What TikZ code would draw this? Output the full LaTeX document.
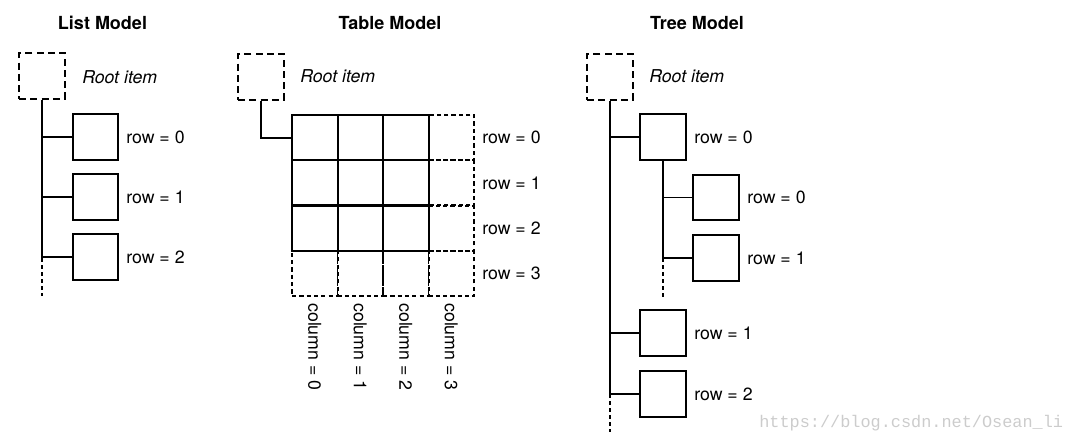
\documentclass[tikz,border=0pt]{standalone}
\usepackage{fontspec}
\setmainfont{TeX Gyre Heros}
\newfontfamily\markfont{Liberation Mono}
\tikzset{
    item/.style={draw, line width=1.4pt, minimum width=1.14cm, minimum height=1.14cm, inner sep=0pt},
    rootitem/.style={item, dash pattern=on 5pt off 3pt},
    cell/.style={draw, line width=1.4pt, minimum size=1.14cm, inner sep=0pt},
    emptycell/.style={cell, dash pattern=on 3pt off 2.2pt},
    label/.style={anchor=west, inner sep=0pt, font=\fontsize{12.6}{15}\selectfont},
    title/.style={font=\fontsize{12.8}{15}\selectfont\bfseries},
    link/.style={line width=1.4pt},
    more/.style={line width=1.4pt, dash pattern=on 2.5pt off 2.5pt}
}
\begin{document}
\begin{tikzpicture}[x=0.025cm, y=-0.025cm]
    \useasboundingbox (0, 0) rectangle (1070, 443);

    % list model
    \node[title] (LT) at (102.5, 23) {List Model};
    \node[rootitem] (LR) at (42, 76) {};
    \node[label] (LRL) at (82, 77) {\itshape Root item};
    \node[item] (L0) at (95.5, 137) {};
    \node[item] (L1) at (95.5, 197) {};
    \node[item] (L2) at (95.5, 257) {};
    \node[label] at (126, 137) {row = 0};
    \node[label] at (126, 197) {row = 1};
    \node[label] at (126, 257) {row = 2};
    \coordinate (LE) at (42, 258);
    \coordinate (LD) at (42, 296);
    \draw[link] (LR.south) -- (LE);
    \draw[more] (LE) -- (LD);
    \draw[link] (L0.west) -- (L0.west -| LE);
    \draw[link] (L1.west) -- (L1.west -| LE);
    \draw[link] (L2.west) -- (L2.west -| LE);

    % table model
    \node[title] (BT) at (390, 23) {Table Model};
    \node[rootitem] (BR) at (261, 77) {};
    \node[label] (BRL) at (300, 76) {\itshape Root item};
    \foreach \c in {0,...,3}
        \foreach \r in {0,...,3}
            \node[emptycell] (C\c\r) at (314.8+45.5*\c, 137.6+45.3*\r) {};
    \foreach \c in {0,...,2}
        \foreach \r in {0,...,2}
            \node[cell] (B\c\r) at (314.8+45.5*\c, 137.6+45.3*\r) {};
    \draw[link] (BR.south) |- (B00.west);
    \foreach \r in {0,...,3}
        \node[label] at (482, 137.6+45.3*\r) {row = \r};
    \foreach \c in {0,...,3}
        \node[label, rotate=-90] at (314.8+45.5*\c, 303) {column = \c};

    % tree model
    \node[title] (TT) at (697, 23) {Tree Model};
    \node[rootitem] (TR) at (610, 77) {};
    \node[label] (TRL) at (649, 76) {\itshape Root item};
    \node[item] (T0) at (663, 137) {};
    \node[item] (T00) at (716, 197.5) {};
    \node[item] (T01) at (716, 258) {};
    \node[item] (T1) at (663, 333) {};
    \node[item] (T2) at (663, 394) {};
    \node[label] at (694, 137) {row = 0};
    \node[label] at (747, 197.5) {row = 0};
    \node[label] at (747, 258) {row = 1};
    \node[label] at (694, 333) {row = 1};
    \node[label] at (694, 394) {row = 2};
    \coordinate (TE) at (610, 394);
    \coordinate (TD) at (610, 432);
    \coordinate (SE) at (663, 258);
    \coordinate (SD) at (663, 297);
    \draw[link] (TR.south) -- (TE);
    \draw[more] (TE) -- (TD);
    \draw[link] (T0.south) -- (SE);
    \draw[more] (SE) -- (SD);
    \draw[link] (T0.west) -- (T0.west -| TE);
    \draw[link] (T1.west) -- (T1.west -| TE);
    \draw[link] (T2.west) -- (T2.west -| TE);
    \draw[link] (T00.west) -- (T00.west -| SE);
    \draw[link] (T01.west) -- (T01.west -| SE);

    \node[anchor=west, inner sep=0pt, text=black!20, font=\markfont\fontsize{12}{14}\selectfont] (WM) at (759, 423) {https://blog.csdn.net/Osean\_li};
\end{tikzpicture}
\end{document}
